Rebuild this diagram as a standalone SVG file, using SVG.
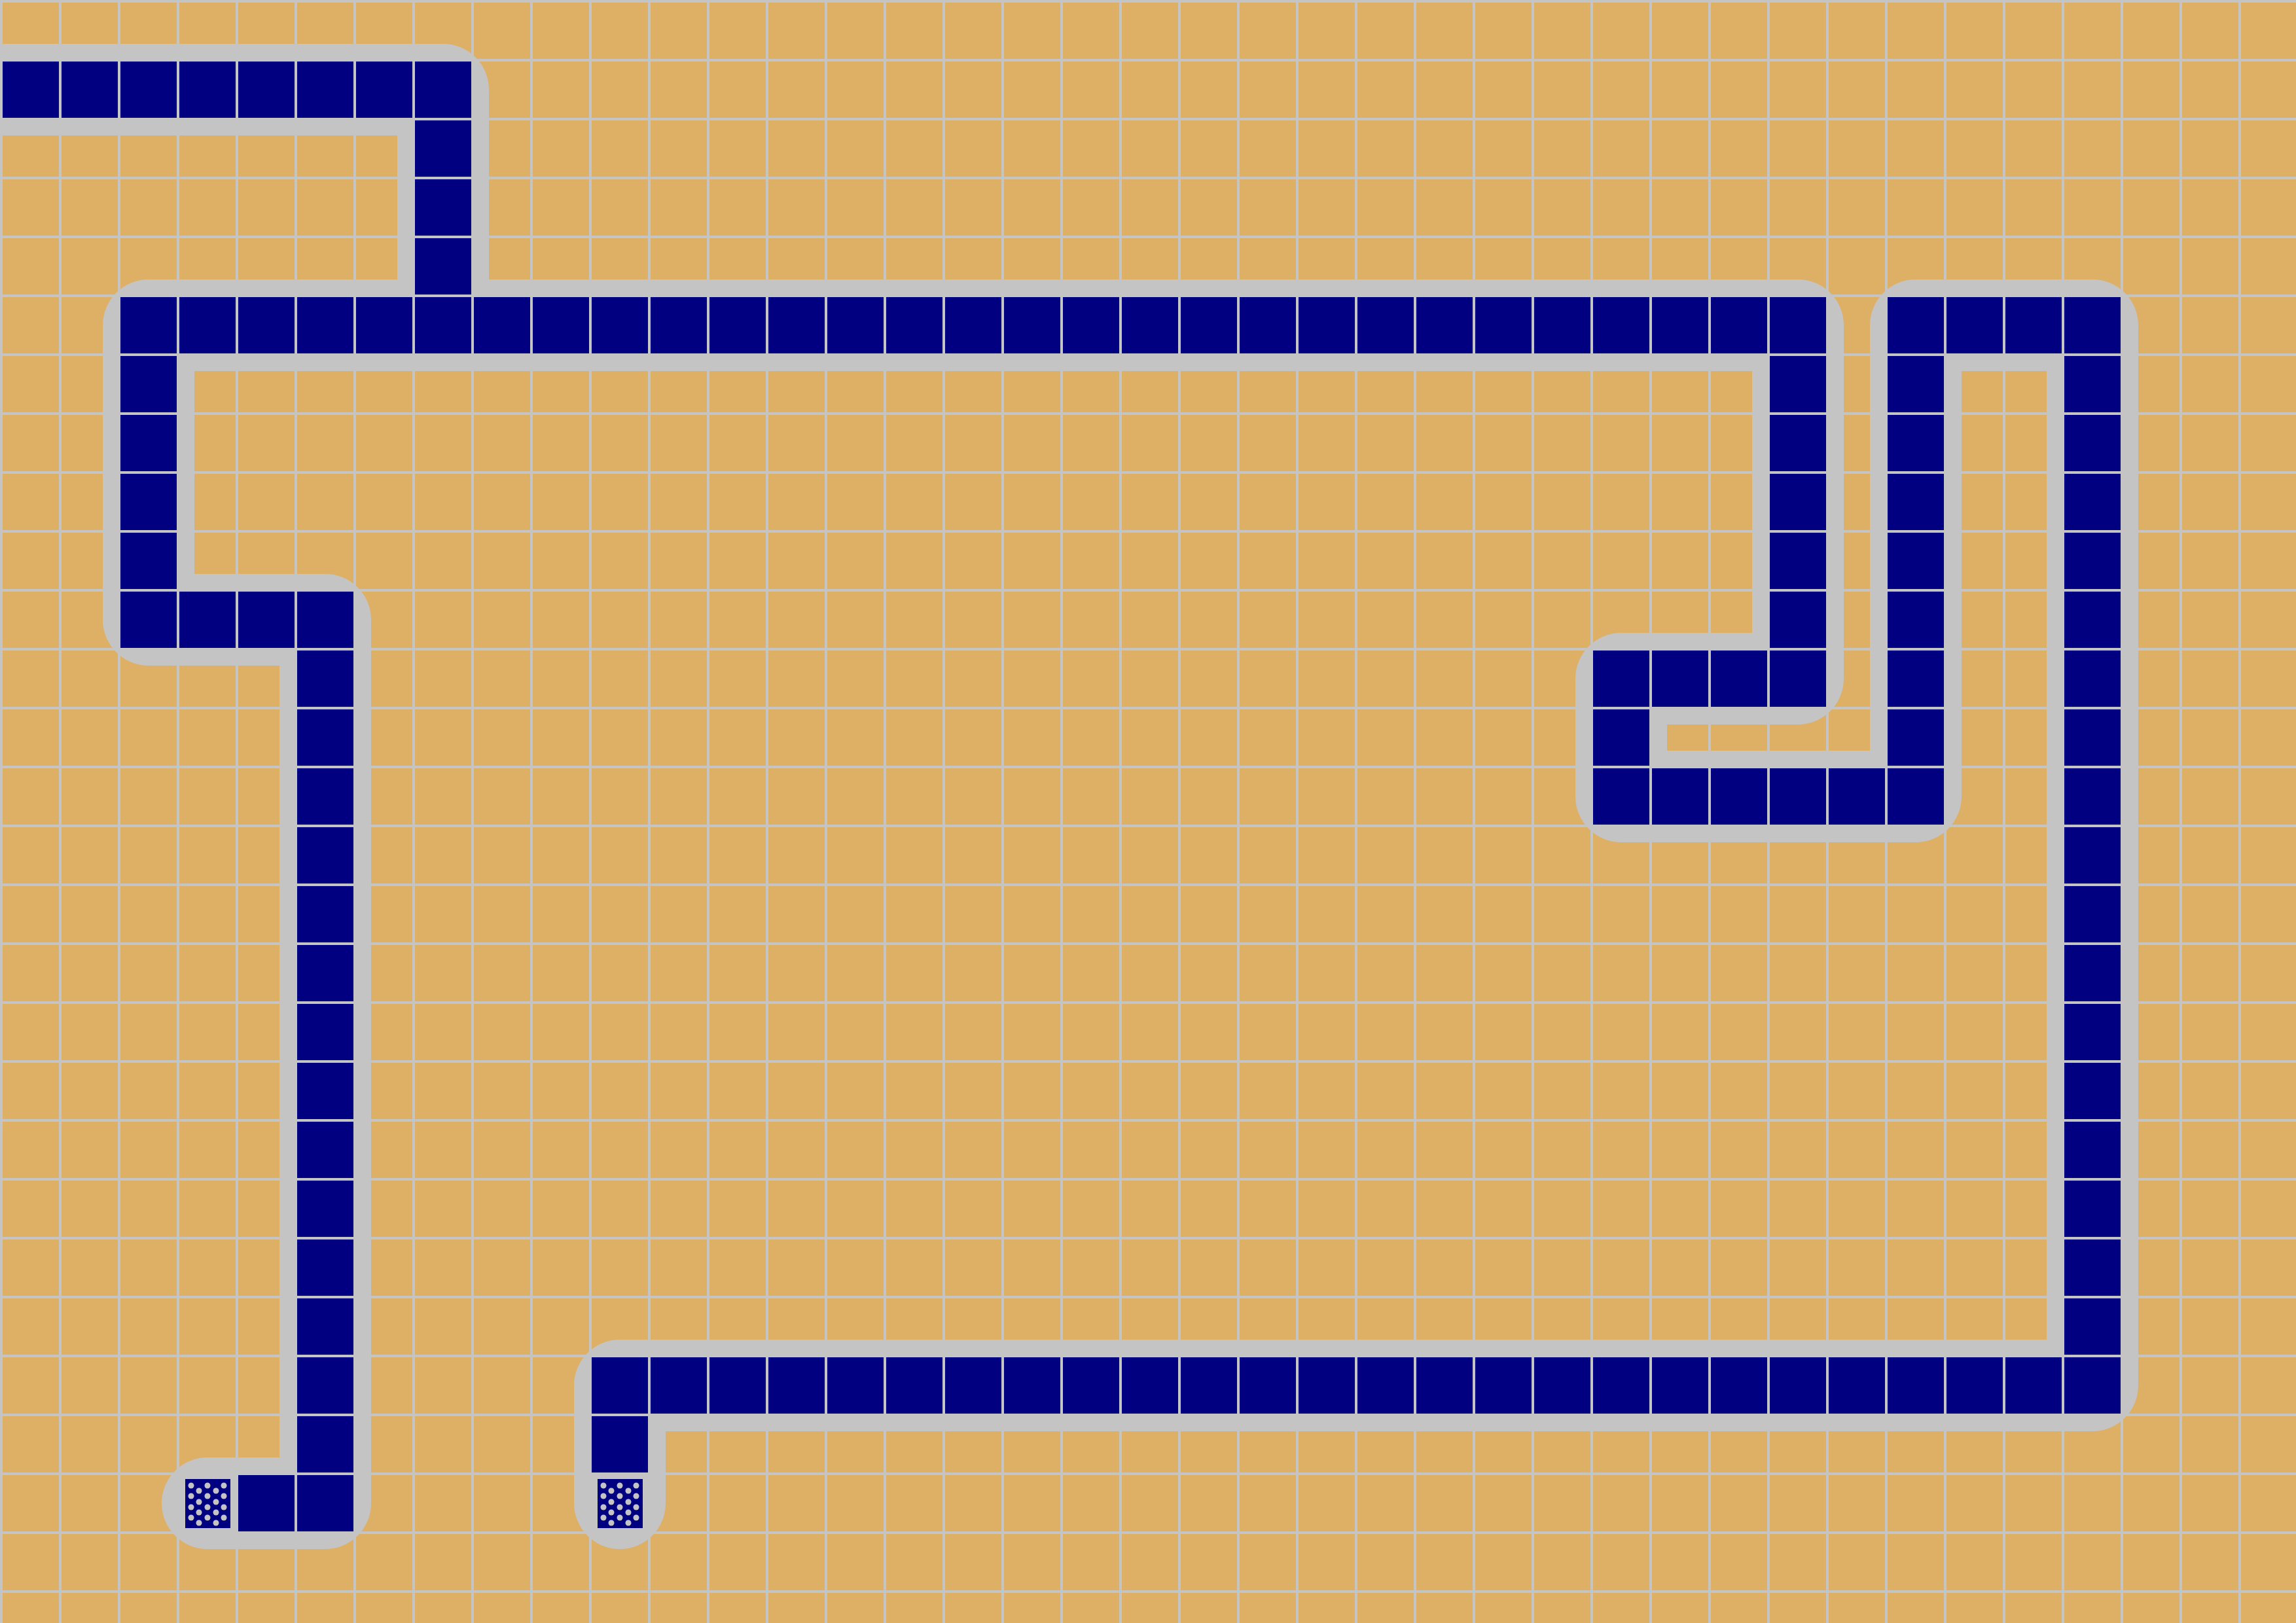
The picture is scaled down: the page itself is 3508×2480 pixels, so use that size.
<svg xmlns="http://www.w3.org/2000/svg" xmlns:xlink="http://www.w3.org/1999/xlink" width="3508" height="2480" viewBox="0 0 3508 2480">
  <style>
    .halo { fill: none; stroke: #c4c4c4; stroke-width: 140; stroke-linejoin: round; stroke-linecap: round; }
    .cell { fill: #000080; }
    .dot { fill: #c4c4c4; }
  </style>
  <defs>
    <pattern id="grid" patternUnits="userSpaceOnUse" x="0" y="0" width="90" height="90">
      <rect x="0" y="0" width="90" height="90" fill="#ddb065"/>
      <rect x="0" y="0" width="90" height="4" fill="#c4c4c4"/>
      <rect x="0" y="0" width="4" height="90" fill="#c4c4c4"/>
    </pattern>
    <g id="dotted">
      <rect class="cell" x="13" y="10" width="69" height="75"/>
      <circle class="dot" cx="22" cy="20" r="4.5"/>
      <circle class="dot" cx="47" cy="20" r="4.5"/>
      <circle class="dot" cx="72" cy="20" r="4.5"/>
      <circle class="dot" cx="34" cy="28" r="4.5"/>
      <circle class="dot" cx="60" cy="28" r="4.5"/>
      <circle class="dot" cx="22" cy="36" r="4.5"/>
      <circle class="dot" cx="47" cy="36" r="4.5"/>
      <circle class="dot" cx="72" cy="36" r="4.5"/>
      <circle class="dot" cx="34" cy="45" r="4.5"/>
      <circle class="dot" cx="60" cy="45" r="4.5"/>
      <circle class="dot" cx="22" cy="53" r="4.5"/>
      <circle class="dot" cx="47" cy="53" r="4.5"/>
      <circle class="dot" cx="72" cy="53" r="4.5"/>
      <circle class="dot" cx="34" cy="61" r="4.5"/>
      <circle class="dot" cx="60" cy="61" r="4.5"/>
      <circle class="dot" cx="22" cy="69" r="4.5"/>
      <circle class="dot" cx="47" cy="69" r="4.5"/>
      <circle class="dot" cx="72" cy="69" r="4.5"/>
      <circle class="dot" cx="34" cy="77" r="4.5"/>
      <circle class="dot" cx="60" cy="77" r="4.5"/>
    </g>
  </defs>

  <rect id="board" x="0" y="0" width="3508" height="2480" fill="url(#grid)"/>

  <g id="halo">
    <path class="halo" d="M-100,137 H677 V497"/>
    <path class="halo" d="M317,2297 H497 V947 H227 V497 H2747 V1037 H2477 V1217 H2927 V497 H3197 V2117 H947 V2297"/>
  </g>
  <!-- grid lines redrawn over halo are same colour; not needed -->

  <g id="path-cells">
    <!-- row 1, cols 0-7 -->
    <rect class="cell" x="4" y="94" width="86" height="86"/>
    <rect class="cell" x="94" y="94" width="86" height="86"/>
    <rect class="cell" x="184" y="94" width="86" height="86"/>
    <rect class="cell" x="274" y="94" width="86" height="86"/>
    <rect class="cell" x="364" y="94" width="86" height="86"/>
    <rect class="cell" x="454" y="94" width="86" height="86"/>
    <rect class="cell" x="544" y="94" width="86" height="86"/>
    <rect class="cell" x="634" y="94" width="86" height="86"/>
    <!-- col 7, rows 2-4 -->
    <rect class="cell" x="634" y="184" width="86" height="86"/>
    <rect class="cell" x="634" y="274" width="86" height="86"/>
    <rect class="cell" x="634" y="364" width="86" height="86"/>
    <!-- row 5, cols 2-30 -->
    <rect class="cell" x="184" y="454" width="86" height="86"/>
    <rect class="cell" x="274" y="454" width="86" height="86"/>
    <rect class="cell" x="364" y="454" width="86" height="86"/>
    <rect class="cell" x="454" y="454" width="86" height="86"/>
    <rect class="cell" x="544" y="454" width="86" height="86"/>
    <rect class="cell" x="634" y="454" width="86" height="86"/>
    <rect class="cell" x="724" y="454" width="86" height="86"/>
    <rect class="cell" x="814" y="454" width="86" height="86"/>
    <rect class="cell" x="904" y="454" width="86" height="86"/>
    <rect class="cell" x="994" y="454" width="86" height="86"/>
    <rect class="cell" x="1084" y="454" width="86" height="86"/>
    <rect class="cell" x="1174" y="454" width="86" height="86"/>
    <rect class="cell" x="1264" y="454" width="86" height="86"/>
    <rect class="cell" x="1354" y="454" width="86" height="86"/>
    <rect class="cell" x="1444" y="454" width="86" height="86"/>
    <rect class="cell" x="1534" y="454" width="86" height="86"/>
    <rect class="cell" x="1624" y="454" width="86" height="86"/>
    <rect class="cell" x="1714" y="454" width="86" height="86"/>
    <rect class="cell" x="1804" y="454" width="86" height="86"/>
    <rect class="cell" x="1894" y="454" width="86" height="86"/>
    <rect class="cell" x="1984" y="454" width="86" height="86"/>
    <rect class="cell" x="2074" y="454" width="86" height="86"/>
    <rect class="cell" x="2164" y="454" width="86" height="86"/>
    <rect class="cell" x="2254" y="454" width="86" height="86"/>
    <rect class="cell" x="2344" y="454" width="86" height="86"/>
    <rect class="cell" x="2434" y="454" width="86" height="86"/>
    <rect class="cell" x="2524" y="454" width="86" height="86"/>
    <rect class="cell" x="2614" y="454" width="86" height="86"/>
    <rect class="cell" x="2704" y="454" width="86" height="86"/>
    <!-- col 2, rows 6-10 -->
    <rect class="cell" x="184" y="544" width="86" height="86"/>
    <rect class="cell" x="184" y="634" width="86" height="86"/>
    <rect class="cell" x="184" y="724" width="86" height="86"/>
    <rect class="cell" x="184" y="814" width="86" height="86"/>
    <rect class="cell" x="184" y="904" width="86" height="86"/>
    <!-- row 10, cols 3-5 -->
    <rect class="cell" x="274" y="904" width="86" height="86"/>
    <rect class="cell" x="364" y="904" width="86" height="86"/>
    <rect class="cell" x="454" y="904" width="86" height="86"/>
    <!-- col 5, rows 11-25 -->
    <rect class="cell" x="454" y="994" width="86" height="86"/>
    <rect class="cell" x="454" y="1084" width="86" height="86"/>
    <rect class="cell" x="454" y="1174" width="86" height="86"/>
    <rect class="cell" x="454" y="1264" width="86" height="86"/>
    <rect class="cell" x="454" y="1354" width="86" height="86"/>
    <rect class="cell" x="454" y="1444" width="86" height="86"/>
    <rect class="cell" x="454" y="1534" width="86" height="86"/>
    <rect class="cell" x="454" y="1624" width="86" height="86"/>
    <rect class="cell" x="454" y="1714" width="86" height="86"/>
    <rect class="cell" x="454" y="1804" width="86" height="86"/>
    <rect class="cell" x="454" y="1894" width="86" height="86"/>
    <rect class="cell" x="454" y="1984" width="86" height="86"/>
    <rect class="cell" x="454" y="2074" width="86" height="86"/>
    <rect class="cell" x="454" y="2164" width="86" height="86"/>
    <rect class="cell" x="454" y="2254" width="86" height="86"/>
    <!-- row 25, col 4 -->
    <rect class="cell" x="364" y="2254" width="86" height="86"/>
    <!-- col 30, rows 6-11 -->
    <rect class="cell" x="2704" y="544" width="86" height="86"/>
    <rect class="cell" x="2704" y="634" width="86" height="86"/>
    <rect class="cell" x="2704" y="724" width="86" height="86"/>
    <rect class="cell" x="2704" y="814" width="86" height="86"/>
    <rect class="cell" x="2704" y="904" width="86" height="86"/>
    <rect class="cell" x="2704" y="994" width="86" height="86"/>
    <!-- row 11, cols 27-29 -->
    <rect class="cell" x="2434" y="994" width="86" height="86"/>
    <rect class="cell" x="2524" y="994" width="86" height="86"/>
    <rect class="cell" x="2614" y="994" width="86" height="86"/>
    <!-- col 27, rows 12-13 -->
    <rect class="cell" x="2434" y="1084" width="86" height="86"/>
    <rect class="cell" x="2434" y="1174" width="86" height="86"/>
    <!-- row 13, cols 28-32 -->
    <rect class="cell" x="2524" y="1174" width="86" height="86"/>
    <rect class="cell" x="2614" y="1174" width="86" height="86"/>
    <rect class="cell" x="2704" y="1174" width="86" height="86"/>
    <rect class="cell" x="2794" y="1174" width="86" height="86"/>
    <rect class="cell" x="2884" y="1174" width="86" height="86"/>
    <!-- col 32, rows 5-12 -->
    <rect class="cell" x="2884" y="454" width="86" height="86"/>
    <rect class="cell" x="2884" y="544" width="86" height="86"/>
    <rect class="cell" x="2884" y="634" width="86" height="86"/>
    <rect class="cell" x="2884" y="724" width="86" height="86"/>
    <rect class="cell" x="2884" y="814" width="86" height="86"/>
    <rect class="cell" x="2884" y="904" width="86" height="86"/>
    <rect class="cell" x="2884" y="994" width="86" height="86"/>
    <rect class="cell" x="2884" y="1084" width="86" height="86"/>
    <!-- row 5, cols 33-35 -->
    <rect class="cell" x="2974" y="454" width="86" height="86"/>
    <rect class="cell" x="3064" y="454" width="86" height="86"/>
    <rect class="cell" x="3154" y="454" width="86" height="86"/>
    <!-- col 35, rows 6-23 -->
    <rect class="cell" x="3154" y="544" width="86" height="86"/>
    <rect class="cell" x="3154" y="634" width="86" height="86"/>
    <rect class="cell" x="3154" y="724" width="86" height="86"/>
    <rect class="cell" x="3154" y="814" width="86" height="86"/>
    <rect class="cell" x="3154" y="904" width="86" height="86"/>
    <rect class="cell" x="3154" y="994" width="86" height="86"/>
    <rect class="cell" x="3154" y="1084" width="86" height="86"/>
    <rect class="cell" x="3154" y="1174" width="86" height="86"/>
    <rect class="cell" x="3154" y="1264" width="86" height="86"/>
    <rect class="cell" x="3154" y="1354" width="86" height="86"/>
    <rect class="cell" x="3154" y="1444" width="86" height="86"/>
    <rect class="cell" x="3154" y="1534" width="86" height="86"/>
    <rect class="cell" x="3154" y="1624" width="86" height="86"/>
    <rect class="cell" x="3154" y="1714" width="86" height="86"/>
    <rect class="cell" x="3154" y="1804" width="86" height="86"/>
    <rect class="cell" x="3154" y="1894" width="86" height="86"/>
    <rect class="cell" x="3154" y="1984" width="86" height="86"/>
    <rect class="cell" x="3154" y="2074" width="86" height="86"/>
    <!-- row 23, cols 10-34 -->
    <rect class="cell" x="904" y="2074" width="86" height="86"/>
    <rect class="cell" x="994" y="2074" width="86" height="86"/>
    <rect class="cell" x="1084" y="2074" width="86" height="86"/>
    <rect class="cell" x="1174" y="2074" width="86" height="86"/>
    <rect class="cell" x="1264" y="2074" width="86" height="86"/>
    <rect class="cell" x="1354" y="2074" width="86" height="86"/>
    <rect class="cell" x="1444" y="2074" width="86" height="86"/>
    <rect class="cell" x="1534" y="2074" width="86" height="86"/>
    <rect class="cell" x="1624" y="2074" width="86" height="86"/>
    <rect class="cell" x="1714" y="2074" width="86" height="86"/>
    <rect class="cell" x="1804" y="2074" width="86" height="86"/>
    <rect class="cell" x="1894" y="2074" width="86" height="86"/>
    <rect class="cell" x="1984" y="2074" width="86" height="86"/>
    <rect class="cell" x="2074" y="2074" width="86" height="86"/>
    <rect class="cell" x="2164" y="2074" width="86" height="86"/>
    <rect class="cell" x="2254" y="2074" width="86" height="86"/>
    <rect class="cell" x="2344" y="2074" width="86" height="86"/>
    <rect class="cell" x="2434" y="2074" width="86" height="86"/>
    <rect class="cell" x="2524" y="2074" width="86" height="86"/>
    <rect class="cell" x="2614" y="2074" width="86" height="86"/>
    <rect class="cell" x="2704" y="2074" width="86" height="86"/>
    <rect class="cell" x="2794" y="2074" width="86" height="86"/>
    <rect class="cell" x="2884" y="2074" width="86" height="86"/>
    <rect class="cell" x="2974" y="2074" width="86" height="86"/>
    <rect class="cell" x="3064" y="2074" width="86" height="86"/>
    <!-- col 10, row 24 -->
    <rect class="cell" x="904" y="2164" width="86" height="86"/>
  </g>

  <g id="end-left">
    <use xlink:href="#dotted" href="#dotted" transform="translate(270,2250)"/>
  </g>
  <g id="end-right">
    <use xlink:href="#dotted" href="#dotted" transform="translate(900,2250)"/>
  </g>
</svg>
